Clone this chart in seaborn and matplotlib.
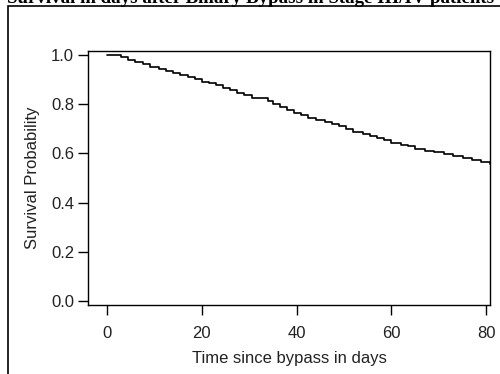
import matplotlib
matplotlib.use("Agg")
import matplotlib.pyplot as plt
import seaborn as sns
import pandas as pd
from matplotlib.patches import Rectangle

times = [0, 3, 4.5, 6, 7.5, 9, 11, 12.5, 14, 15.5, 17, 18.5, 20, 21.5, 23, 24.5,
         26, 27.5, 29, 30.5, 34, 35, 36.5, 38, 39.5, 41, 42.5, 44, 46, 47.5, 49,
         50.5, 52, 54, 55.5, 57, 58.5, 60, 62, 63.5, 65, 67, 69, 71, 73, 75, 77,
         79, 80.8]
survival = [1.0, 0.99, 0.98, 0.972, 0.962, 0.952, 0.944, 0.935, 0.928, 0.918,
            0.91, 0.902, 0.892, 0.886, 0.876, 0.866, 0.856, 0.846, 0.836, 0.826,
            0.814, 0.80, 0.79, 0.776, 0.764, 0.755, 0.745, 0.736, 0.728, 0.72,
            0.71, 0.70, 0.688, 0.68, 0.67, 0.662, 0.654, 0.643, 0.636, 0.628,
            0.618, 0.61, 0.604, 0.596, 0.588, 0.58, 0.572, 0.563, 0.556]
xticks = [0, 20, 40, 60, 80]
yticks = [0.0, 0.2, 0.4, 0.6, 0.8, 1.0]
title = "Survival in days after Biliary Bypass in Stage III/IV patients"

sns.set_style("white")
plt.rcParams['font.family'] = ['Liberation Sans', 'DejaVu Sans']

df = pd.DataFrame({"t": times, "s": survival})

fig = plt.figure(figsize=(5, 3.74), dpi=100)
ax = fig.add_axes([88/500, (374-305)/374, (490-88)/500, (305-51)/374])

sns.lineplot(data=df, x="t", y="s", drawstyle="steps-post", color="black",
             lw=1.2, ax=ax)

ax.set_xlim(-4, 80.8)
ax.set_ylim(-0.016, 1.016)
ax.set_xticks(xticks)
ax.set_xticklabels([str(v) for v in xticks])
ax.set_yticks(yticks)
ax.set_yticklabels([f"{v:.1f}" for v in yticks])
ax.tick_params(axis="both", direction="out", length=7, width=1, color="black",
               labelsize=12, labelcolor="#222222", bottom=True, left=True, pad=3)
ax.tick_params(axis="x", pad=8)
for sp in ax.spines.values():
    sp.set_color("black")
    sp.set_linewidth(1)
ax.set_xlabel("Time since bypass in days", fontsize=12, color="#222222", labelpad=7)
ax.set_ylabel("Survival Probability", fontsize=12, color="#222222", labelpad=8)

# outer frame
fig.patches.append(Rectangle((8/500, -0.2), 1.2, (374-6)/374 + 0.2,
                             transform=fig.transFigure, fill=False,
                             edgecolor="black", lw=1.2))

fig.text(7/500, (374-3)/374, title, ha="left", va="baseline",
         family=["Liberation Serif"], fontweight="bold", fontsize=13.6,
         color="black")

fig.savefig("out.png", dpi=100)
